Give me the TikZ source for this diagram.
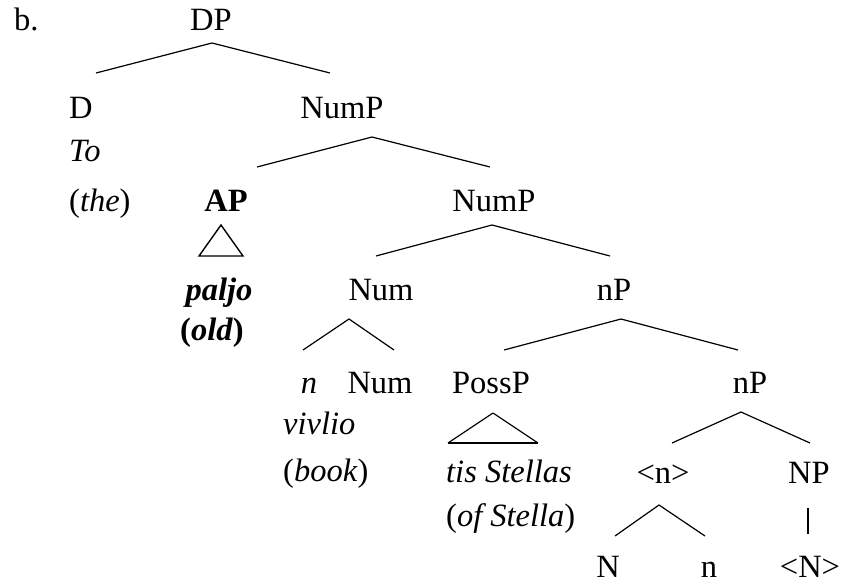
\documentclass[tikz,border=0pt]{standalone}
\usepackage{fontspec}
\setmainfont{Liberation Serif}
\begin{document}
\begin{tikzpicture}[x=1pt,y=-1pt,
  lab/.style={anchor=base,inner sep=0pt,font=\fontsize{32.5}{38}\selectfont},
  br/.style={line width=1.2pt},
  tri/.style={line width=1.4pt}]
\useasboundingbox[fill=white] (0,0) rectangle (841,584);
% labels
\node[lab,anchor=base west] (b) at (14,30) {b.};
\node[lab] (dp) at (211,30) {DP};
\node[lab,anchor=base west] (d) at (69,118) {D};
\node[lab] (numpa) at (342,118) {NumP};
\node[lab,anchor=base west] (to) at (69,161) {\textit{To}};
\node[lab,anchor=base west] (the) at (69,211) {(\textit{the})};
\node[lab] (ap) at (226,211) {\textbf{AP}};
\node[lab] (numpb) at (494,211) {NumP};
\node[lab] (paljo) at (219,300) {\textbf{\textit{paljo}}};
\node[lab] (num) at (381,300) {Num};
\node[lab] (npa) at (614,300) {nP};
\node[lab] (old) at (212,340) {\textbf{(\textit{old})}};
\node[lab] (nn) at (309,393) {\textit{n}};
\node[lab] (numb) at (380,393) {Num};
\node[lab] (possp) at (491,393) {PossP};
\node[lab] (npb) at (750,393) {nP};
\node[lab,anchor=base west] (vivlio) at (283,434) {\textit{vivlio}};
\node[lab,anchor=base west] (book) at (283,481) {(\textit{book})};
\node[lab,anchor=base west] (tis) at (446,482) {\textit{tis Stellas}};
\node[lab,anchor=base west] (ofst) at (446,526) {(\textit{of Stella})};
\node[lab] (nang) at (663,483) {<n>};
\node[lab] (np) at (809,483) {NP};
\node[lab] (N) at (608,577) {N};
\node[lab] (nlow) at (709,577) {n};
\node[lab] (Nang) at (810,577) {<N>};
% branch coordinates
\coordinate (dp-a) at (212,43); \coordinate (dp-l) at (96,73); \coordinate (dp-r) at (330,73);
\coordinate (na-a) at (372,137); \coordinate (na-l) at (257,167); \coordinate (na-r) at (490,167);
\coordinate (nb-a) at (492,225); \coordinate (nb-l) at (376,256); \coordinate (nb-r) at (610,256);
\coordinate (num-a) at (349,319); \coordinate (num-l) at (303,350); \coordinate (num-r) at (394,350);
\coordinate (npa-a) at (621,319); \coordinate (npa-l) at (504,350); \coordinate (npa-r) at (738,350);
\coordinate (npb-a) at (741,412); \coordinate (npb-l) at (672,443); \coordinate (npb-r) at (810,443);
\coordinate (ng-a) at (659,505); \coordinate (ng-l) at (615,536); \coordinate (ng-r) at (705,536);
\coordinate (np-t) at (808,508); \coordinate (np-b) at (808,534);
\draw[br] (dp-l) -- (dp-a) -- (dp-r);
\draw[br] (na-l) -- (na-a) -- (na-r);
\draw[br] (nb-l) -- (nb-a) -- (nb-r);
\draw[br] (num-l) -- (num-a) -- (num-r);
\draw[br] (npa-l) -- (npa-a) -- (npa-r);
\draw[br] (npb-l) -- (npb-a) -- (npb-r);
\draw[br] (ng-l) -- (ng-a) -- (ng-r);
\draw[br] (np-t) -- (np-b);
% triangles
\draw[tri,line join=miter] (221,225) -- (199,256) -- (243,256) -- cycle;
\draw[br] (493,413) -- (448,443);
\draw[br] (493,413) -- (538,443);
\draw[tri] (448,443) -- (538,443);
\end{tikzpicture}
\end{document}
